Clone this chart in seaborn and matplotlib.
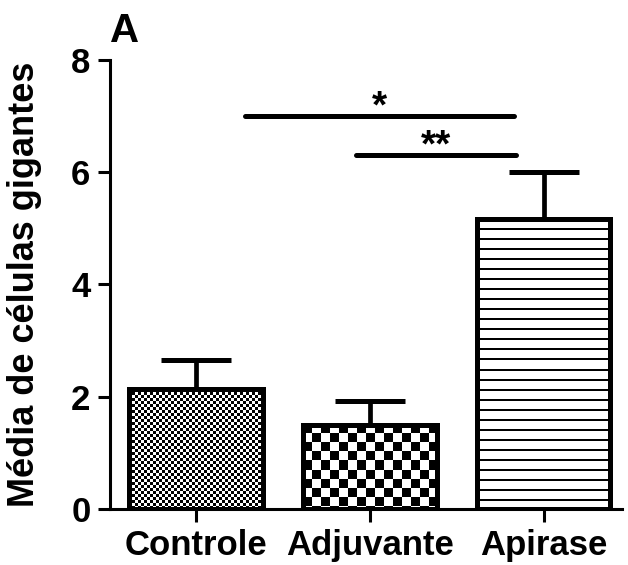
import numpy as np
import pandas as pd
import matplotlib
matplotlib.use("Agg")
import matplotlib.pyplot as plt
import seaborn as sns

groups = ["Controle", "Adjuvante", "Apirase"]
means = [2.13, 1.50, 5.17]
sems = [0.52, 0.42, 0.84]
sig_pairs = [(0.28, 1.83, 7.0, "*"), (0.92, 1.84, 6.31, "**")]
y_ticks = [0, 2, 4, 6, 8]

sns.set_theme(style="ticks")
plt.rcParams["font.family"] = ["Liberation Sans", "DejaVu Sans"]
plt.rcParams["font.weight"] = "bold"
for k in ["text.color", "axes.labelcolor", "xtick.color", "ytick.color", "axes.edgecolor"]:
    plt.rcParams[k] = "black"

fig = plt.figure(figsize=(6.28, 5.65), dpi=100)
ax = fig.add_axes([0.175, 0.099, 0.815, 0.795])

df = pd.DataFrame({"grupo": groups, "media": means})
sns.barplot(data=df, x="grupo", y="media", ax=ax, color="white",
            edgecolor="black", linewidth=3.6, width=0.77, errorbar=None, zorder=3)
for p in ax.patches:
    p.set_facecolor("none")
ax.errorbar(range(len(groups)), means, yerr=[[0] * 3, sems], fmt="none",
            ecolor="black", elinewidth=3.4, capsize=25, capthick=3.6, zorder=2)

ax.set_xlim(-0.495, 2.45)
ax.set_ylim(0, 8)
ax.set_yticks(y_ticks)
ax.set_xlabel("")
ax.set_ylabel("Média de células gigantes", fontsize=26, fontweight="bold")
ax.yaxis.set_label_coords(-0.133, 0.5)
ax.tick_params(axis="both", width=2.2, length=9, labelsize=25, pad=5)
for lab in ax.get_xticklabels() + ax.get_yticklabels():
    lab.set_fontweight("bold")
sns.despine(ax=ax)
for s in ["left", "bottom"]:
    ax.spines[s].set_linewidth(2.2)

# patterns inside the bars
fig.canvas.draw()
patterns = ["fine", "coarse", "lines"]
for patch, kind in zip(ax.patches, patterns):
    bb = patch.get_window_extent()
    w = int(round(bb.width)); h = int(round(bb.height))
    yy, xx = np.mgrid[0:h, 0:w]
    if kind == "fine":
        arr = ((xx // 3 + yy // 3) % 2).astype(float)
    elif kind == "coarse":
        arr = ((xx // 9 + yy // 9) % 2).astype(float)
    else:
        arr = np.where((yy % 10) < 2, 0.0, 1.0)
    x0 = patch.get_x(); x1 = x0 + patch.get_width()
    y0 = patch.get_y(); y1 = y0 + patch.get_height()
    im = ax.imshow(arr, extent=(x0, x1, y0, y1), aspect="auto", cmap="gray",
                   vmin=0, vmax=1, interpolation="nearest", zorder=2.5, origin="upper")
    im.set_clip_path(patch)
ax.set_xlim(-0.495, 2.45)
ax.set_ylim(0, 8)

for xa, xb, yv, txt in sig_pairs:
    ax.plot([xa, xb], [yv, yv], color="black", lw=3.6, solid_capstyle="round", zorder=4)
    ax.text((xa + xb) / 2, yv - 0.17, txt, ha="center", va="bottom",
            fontsize=28, fontweight="bold")

fig.text(0.175, 0.978, "A", fontsize=29, fontweight="bold", ha="left", va="top")

fig.savefig("out.png", dpi=100)
